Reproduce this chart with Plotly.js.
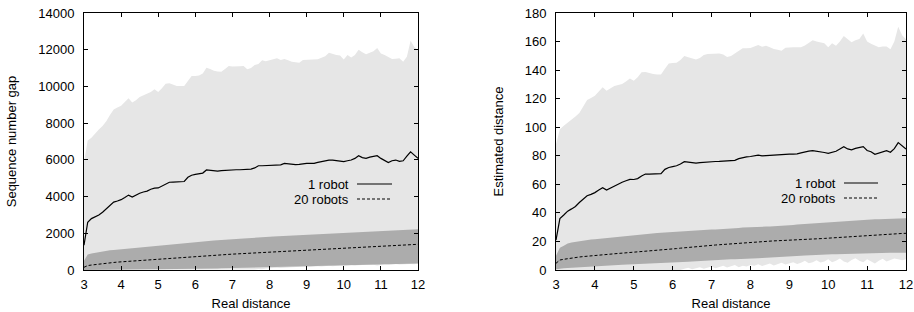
<!DOCTYPE html>
<html>
<head>
<meta charset="utf-8">
<script src="https://cdn.plot.ly/plotly-3.0.1.min.js"></script>
<style>
html,body{margin:0;padding:0;background:#fff;}
#chart{width:914px;height:312px;}
</style>
</head>
<body>
<div id="chart"></div>
<script>
// Real distance (x values, shared by both panels)
var realDistance = [3.0,3.1,3.2,3.3,3.4,3.5,3.6,3.7,3.8,3.9,
4.0,4.1,4.2,4.3,4.4,4.5,4.6,4.7,4.8,4.9,
5.0,5.1,5.2,5.3,5.4,5.5,5.6,5.7,5.8,5.9,
6.0,6.1,6.2,6.3,6.4,6.5,6.6,6.7,6.8,6.9,
7.0,7.1,7.2,7.3,7.4,7.5,7.6,7.7,7.8,7.9,
8.0,8.1,8.2,8.3,8.4,8.5,8.6,8.7,8.8,8.9,
9.0,9.1,9.2,9.3,9.4,9.5,9.6,9.7,9.8,9.9,
10.0,10.1,10.2,10.3,10.4,10.5,10.6,10.7,10.8,10.9,
11.0,11.1,11.2,11.3,11.4,11.5,11.6,11.7,11.8,11.9,12.0];

// ---- Left panel: Sequence number gap ----
var gap1Mean = [1350,2600,2800,2900,3000,3150,3350,3550,3700,3760,
3830,3950,4080,3970,4080,4180,4250,4300,4400,4460,
4470,4580,4700,4780,4790,4790,4800,4820,5050,5160,
5210,5230,5280,5450,5430,5400,5390,5410,5430,5450,
5460,5460,5460,5460,5460,5500,5560,5680,5680,5690,
5720,5750,5760,5730,5810,5780,5760,5740,5750,5790,
5810,5810,5810,5860,5900,5940,5990,5980,5960,5930,
5900,5950,5990,6080,6225,6120,6080,6150,6180,6225,
6080,5950,5850,5950,5990,5920,5950,6200,6440,6260,6080];
var gap1Upper = [5900,7050,7200,7450,7650,7850,8100,8450,8750,8850,
8950,9150,9350,9130,9250,9420,9500,9580,9700,9850,
9700,9900,10150,10170,10100,10020,10020,10020,10300,10570,
10570,10600,10700,11020,10950,10850,10820,10800,10950,11110,
11090,11080,11100,11110,10930,11000,11170,11220,11420,11370,
11420,11480,11530,11440,11500,11430,11350,11320,11290,11440,
11440,11440,11440,11480,11560,11650,11840,11760,11710,11690,
11470,11710,11580,11710,12000,11860,11750,11830,11920,12100,
11800,11710,11600,11490,11510,11530,11350,11620,12490,12150,11980];
var gap1Lower = [0,0,0,0,0,0,0,0,0,0,
0,0,0,0,0,0,0,0,0,0,
0,0,0,0,0,0,0,0,0,0,
0,0,0,0,0,0,0,0,0,0,
0,0,0,0,0,0,30,60,40,80,
100,90,120,110,140,130,150,170,160,180,
190,170,200,210,190,220,230,210,240,250,
230,260,270,250,280,270,290,300,280,250,
300,310,290,320,330,300,320,340,330,310,350];
var gap20Mean = [150,240,270,300,320,345,370,395,410,430,
445,460,470,485,500,515,530,545,560,580,
595,610,625,640,655,670,690,705,720,735,
745,760,775,790,805,815,825,835,845,855,
865,875,885,895,905,920,935,950,960,970,
980,990,1000,1010,1020,1030,1040,1050,1060,1065,
1070,1075,1080,1085,1095,1105,1115,1125,1135,1145,
1155,1165,1175,1185,1195,1210,1225,1240,1255,1270,
1285,1300,1310,1320,1330,1340,1350,1360,1375,1390,1400];
var gap20Upper = [500,840,900,940,980,1010,1040,1070,1090,1110,
1130,1150,1160,1180,1200,1220,1240,1260,1280,1300,
1320,1330,1350,1370,1400,1430,1460,1480,1500,1510,
1530,1550,1570,1580,1600,1610,1620,1640,1650,1670,
1680,1690,1700,1710,1730,1750,1760,1780,1790,1800,
1810,1820,1830,1840,1850,1860,1870,1880,1890,1900,
1910,1920,1930,1940,1950,1960,1970,1980,1990,2000,
2010,2020,2030,2040,2050,2060,2070,2080,2090,2100,
2110,2120,2130,2140,2150,2160,2170,2180,2190,2200,2215];
var gap20Lower = [0,0,0,5,5,10,10,15,15,20,
20,25,25,30,30,35,35,40,40,45,
45,50,50,55,55,60,60,65,65,70,
70,75,75,80,80,85,85,90,95,100,
100,105,110,115,120,125,130,135,140,145,
150,155,160,165,170,175,180,185,190,195,
200,205,210,215,220,225,230,235,240,245,
250,255,260,265,270,275,280,285,290,295,
300,305,310,315,320,325,330,335,340,345,350];

// ---- Right panel: Estimated distance ----
var est1Mean = [21,36,38.5,41.2,42.8,44.5,47.3,50,52,53,
54.2,56,57.7,56,57.5,59,60.3,61.5,62.5,63.5,
63.4,64,65.8,67.2,67.2,67.2,67.2,67.5,70.5,71.8,
72.4,73,74.2,75.9,75.5,75,74.8,75.2,75.5,75.7,
75.9,76,76.1,76.2,76.2,76.4,76.8,78,78.8,79.2,
79.5,80.2,80.4,80,79.9,80.3,80.5,80.8,81.1,81.2,
81.2,81.2,81.3,82,82.8,83.2,83.6,83.3,82.9,82.3,
81.7,82.4,83.2,84.8,86.4,84.8,84.2,85.2,85.8,86.4,
83.7,82.8,81,81.8,82.8,83.6,82.5,85,89.2,87,84.7];
var est1Upper = [88,98.5,101,103,105.5,107.5,110,115,119,120.5,
122,125,128,125.6,127,128.8,129.5,130.3,132,134.2,
132.6,135,138.5,138.6,138,137.2,137,137,141,144.7,
145,145.2,147,149.9,149,148.2,147.5,148.5,150.5,151.3,
151.3,151.4,151.6,151,149.2,149.8,151.5,153.5,155.3,155.3,
155.4,156.5,157.6,156.4,157,156,154.8,154.2,153.6,155.6,
156,156,156,156,157.2,159,161,160,159.3,158.8,
156,158.8,157,160,163.9,161.5,159.5,161,161.8,165.7,
160,158.5,157,156,156.5,156.5,154.6,160,170.4,164.5,161.6];
var est1Lower = [0,0,0,0,0,0,0,0,0,0,
0,0,0,0,0,0,0,0,0,0,
0,0,0,0,0,0,0,0,0,0,
0,0,0,0.8,1.5,0.5,1.2,2,0.8,1.5,
2.5,1.2,2.2,3,1.8,2.5,3.5,2,3,2.5,
3.5,3,4,2.8,3.5,4.5,3.2,4,5,3.8,
4.5,5.5,4.2,5,6.5,4.8,5.5,6.8,5.2,6,
7.5,5.5,6.5,8,6,5,7,8.2,6.5,5.5,
7.5,6,4.5,6.5,7.8,6,7,8,7.5,6.8,7.5];
var est20Mean = [4.7,7,7.5,8,8.4,8.8,9.1,9.4,9.7,10,
10.2,10.4,10.6,10.8,11,11.3,11.6,11.8,12,12.3,
12.5,12.7,12.9,13.1,13.4,13.7,14,14.2,14.4,14.5,
14.7,15,15.3,15.6,15.9,16.2,16.4,16.6,16.9,17.1,
17.3,17.5,17.7,17.9,18.1,18.4,18.7,19,19.2,19.4,
19.6,19.8,20,20.1,20.2,20.3,20.4,20.5,20.6,20.7,
20.8,20.9,21,21.1,21.2,21.4,21.5,21.7,21.9,22.1,
22.3,22.5,22.7,22.9,23.1,23.3,23.5,23.7,23.9,24.1,
24.3,24.5,24.7,24.8,24.9,25,25.1,25.3,25.5,25.6,25.7];
var est20Upper = [10,15.5,17,18.5,19.3,19.8,20.3,20.7,21,21.3,
21.6,21.9,22.2,22.5,22.8,23.1,23.3,23.5,23.7,23.9,
24.1,24.4,24.7,25,25.3,25.6,25.9,26.1,26.3,26.4,
26.6,26.8,27,27.2,27.4,27.6,27.7,27.9,28,28.1,
28.3,28.4,28.5,28.7,28.9,29.1,29.3,29.5,29.7,29.9,
30,30.1,30.2,30.3,30.4,30.5,30.6,30.7,30.8,31,
31.3,31.6,31.8,32,32.2,32.5,32.7,32.9,33.1,33.3,
33.5,33.7,33.9,34.1,34.3,34.5,34.6,34.8,35,35.1,
35.3,35.4,35.5,35.6,35.7,35.8,35.9,36,36.1,36.2,36.2];
var est20Lower = [0.5,1.0,1.2,1.4,1.6,1.8,2.0,2.2,2.4,2.6,
2.8,2.9,3.0,3.1,3.2,3.3,3.5,3.6,3.7,3.8,
3.9,4.0,4.1,4.2,4.3,4.4,4.5,4.6,4.7,4.7,
4.9,5.1,5.3,5.5,5.7,5.9,6.1,6.3,6.5,6.6,
6.8,6.9,7.0,7.1,7.3,7.5,7.6,7.8,7.9,8.0,
8.1,8.2,8.3,8.4,8.5,8.6,8.7,8.8,8.9,9.1,
9.3,9.5,9.7,9.9,10.1,10.3,10.5,10.6,10.7,10.8,
10.9,11.0,11.1,11.2,11.3,11.4,11.5,11.5,11.6,11.6,
11.7,11.7,11.8,11.8,11.9,11.9,12.0,12.0,12.0,12.1,12.1];

var xTicks = [3,4,5,6,7,8,9,10,11,12];
var seriesNames = ['1 robot', '20 robots'];

var LIGHT = '#e6e6e6', DARK = '#acacac';

function panel(xa, ya, l1, u1, m1, l20, u20, m20) {
  var base = {x: realDistance, xaxis: xa, yaxis: ya, mode: 'lines', hoverinfo: 'skip', showlegend: false};
  return [
    Object.assign({}, base, {y: l1, line: {width: 0, color: LIGHT}}),
    Object.assign({}, base, {y: u1, line: {width: 0, color: LIGHT}, fill: 'tonexty', fillcolor: LIGHT}),
    Object.assign({}, base, {y: l20, line: {width: 0, color: DARK}}),
    Object.assign({}, base, {y: u20, line: {width: 0, color: DARK}, fill: 'tonexty', fillcolor: DARK}),
    Object.assign({}, base, {y: m20, name: seriesNames[1], line: {width: 1, color: '#000', dash: '3px,2px'}}),
    Object.assign({}, base, {y: m1, name: seriesNames[0], line: {width: 1.2, color: '#000'}})
  ];
}

var data = [].concat(
  panel('x', 'y', gap1Lower, gap1Upper, gap1Mean, gap20Lower, gap20Upper, gap20Mean),
  panel('x2', 'y2', est1Lower, est1Upper, est1Mean, est20Lower, est20Upper, est20Mean)
);

var FONT = {family: 'Liberation Sans, Arial, sans-serif', size: 13, color: '#000'};
function xax(domain, anchor) {
  return {domain: domain, anchor: anchor, range: [3, 12], tickvals: xTicks, ticks: 'inside', ticklen: 4,
    tickcolor: '#000', mirror: 'allticks', showline: true, linecolor: '#000', linewidth: 1,
    showgrid: false, zeroline: false, tickfont: FONT, ticklabelstandoff: 2,
    title: {text: 'Real distance', font: FONT, standoff: 8}};
}
function yax(anchor, range, dtick, title) {
  return {anchor: anchor, domain: [0, 1], range: range, dtick: dtick, tickformat: 'd', ticks: 'inside', ticklen: 4,
    tickcolor: '#000', mirror: 'allticks', showline: true, linecolor: '#000', linewidth: 1,
    showgrid: false, zeroline: false, tickfont: FONT, ticklabelstandoff: 6,
    title: {text: title, font: FONT, standoff: 18}};
}

var W = 914, PT = 13, PB = 270, PH = PB - PT;
function px(x) { return x / W; }
function py(y) { return (PB - y) / PH; }

var annotations = [], shapes = [];
function legendFor(textRight, lineL, lineR, y1, y2) {
  annotations.push({xref: 'paper', yref: 'paper', x: px(textRight), y: py(y1), xanchor: 'right', yanchor: 'middle',
    text: seriesNames[0], showarrow: false, font: FONT, borderpad: 0});
  annotations.push({xref: 'paper', yref: 'paper', x: px(textRight), y: py(y2), xanchor: 'right', yanchor: 'middle',
    text: seriesNames[1], showarrow: false, font: FONT, borderpad: 0});
  shapes.push({type: 'line', xref: 'paper', yref: 'paper', x0: px(lineL), x1: px(lineR), y0: py(y1), y1: py(y1),
    line: {color: '#000', width: 1.2}});
  shapes.push({type: 'line', xref: 'paper', yref: 'paper', x0: px(lineL), x1: px(lineR), y0: py(y2), y1: py(y2),
    line: {color: '#000', width: 1, dash: '3px,2px'}});
}
legendFor(350, 357, 392, 184, 199);
legendFor(837, 844, 878, 183, 198);

var layout = {
  width: 914, height: 312,
  margin: {l: 0, r: 0, t: PT, b: 312 - PB, pad: 0},
  paper_bgcolor: '#fff', plot_bgcolor: '#fff',
  font: FONT,
  showlegend: false,
  xaxis: xax([84 / W, 418 / W], 'y'),
  yaxis: yax('x', [0, 14000], 2000, 'Sequence number gap'),
  xaxis2: xax([556 / W, 906 / W], 'y2'),
  yaxis2: yax('x2', [0, 180], 20, 'Estimated distance'),
  annotations: annotations,
  shapes: shapes
};

Plotly.newPlot('chart', data, layout, {staticPlot: true, displayModeBar: false});
</script>
</body>
</html>
